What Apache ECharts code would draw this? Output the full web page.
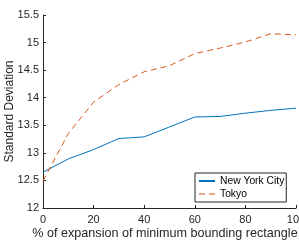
<!DOCTYPE html>
<html>
<head>
<meta charset="utf-8">
<script src="https://cdn.jsdelivr.net/npm/echarts@6/dist/echarts.min.js"></script>
<style>
  html, body { margin: 0; padding: 0; background: #fff; }
  #chart { width: 299px; height: 246px; }
</style>
</head>
<body>
<div id="chart"></div>
<script>
// expansion percentages
var expansion = [0, 10, 20, 30, 40, 50, 60, 70, 80, 90, 100];
// standard deviation per city
var newYork = [12.65, 12.89, 13.06, 13.26, 13.29, 13.47, 13.65, 13.66, 13.72, 13.77, 13.81];
var tokyo = [12.49, 13.35, 13.92, 14.24, 14.47, 14.58, 14.8, 14.9, 15.01, 15.16, 15.14];

function pairs(xs, ys) {
  var out = [];
  for (var i = 0; i < xs.length; i++) {
    out.push([xs[i], ys[i]]);
  }
  return out;
}

var myChart = echarts.init(document.getElementById('chart'));

var axisText = { color: '#262626', fontFamily: 'Liberation Sans', fontSize: 11 };

var option = {
  animation: false,
  textStyle: { fontFamily: 'Liberation Sans' },
  grid: { left: 43, right: 3, top: 15, bottom: 38, containLabel: false, outerBoundsMode: 'none' },
  legend: {
    left: 195,
    top: 173,
    orient: 'vertical',
    itemWidth: 16,
    itemHeight: 2,
    itemGap: 1,
    padding: [2, 2, 2, 4],
    borderColor: '#262626',
    borderWidth: 1,
    backgroundColor: '#fff',
    textStyle: { color: '#000', fontFamily: 'Liberation Sans', fontSize: 10.3, lineHeight: 12 },
    data: [
      { name: 'New York City', icon: 'rect' },
      { name: 'Tokyo', icon: 'path://M0,0H6V1H0Z M10,0H16V1H10Z' }
    ]
  },
  xAxis: {
    type: 'value',
    min: 0,
    max: 100,
    interval: 20,
    name: '% of expansion of minimum bounding rectangle',
    nameLocation: 'middle',
    nameGap: 19,
    nameMoveOverlap: false,
    nameTextStyle: { color: '#262626', fontFamily: 'Liberation Sans', fontSize: 12.6, padding: [0, 9, 0, 0] },
    axisLine: { lineStyle: { color: '#262626', width: 1 } },
    axisTick: { inside: true, length: 3, lineStyle: { color: '#262626' } },
    axisLabel: Object.assign({ margin: 6 }, axisText),
    splitLine: { show: false }
  },
  yAxis: {
    type: 'value',
    min: 12,
    max: 15.5,
    interval: 0.5,
    name: 'Standard Deviation',
    nameLocation: 'middle',
    nameGap: 27,
    nameMoveOverlap: false,
    nameTextStyle: { color: '#262626', fontFamily: 'Liberation Sans', fontSize: 12 },
    axisLine: { show: true, lineStyle: { color: '#262626', width: 1 } },
    axisTick: { show: true, inside: true, length: 3, lineStyle: { color: '#262626' } },
    axisLabel: Object.assign({ margin: 4 }, axisText),
    splitLine: { show: false }
  },
  series: [
    {
      name: 'New York City',
      type: 'line',
      data: pairs(expansion, newYork),
      showSymbol: false,
      lineStyle: { color: '#0072BD', width: 1 },
      itemStyle: { color: '#0072BD' }
    },
    {
      name: 'Tokyo',
      type: 'line',
      data: pairs(expansion, tokyo),
      showSymbol: false,
      lineStyle: { color: '#D95319', width: 1, type: [6, 4] },
      itemStyle: { color: '#D95319' }
    }
  ]
};

myChart.setOption(option);
</script>
</body>
</html>
